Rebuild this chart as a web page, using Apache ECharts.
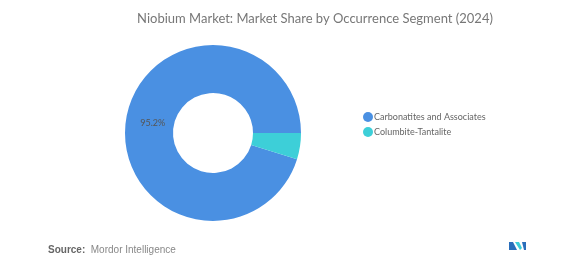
<!DOCTYPE html>
<html>
<head>
<meta charset="utf-8">
<script src="https://cdn.jsdelivr.net/npm/echarts@6/dist/echarts.min.js"></script>
<style>
  html, body { margin: 0; padding: 0; background: #fff; }
  #chart { width: 580px; height: 262px; }
</style>
</head>
<body>
<div id="chart"></div>
<script>
// segment names and shares (%)
const segments = ['Carbonatites and Associates', 'Columbite-Tantalite']
const shares = [95.2, 4.8]
const colors = ['#4a90e2', '#3dcfd8']

const chart = echarts.init(document.getElementById('chart'))

let pieData = []
segments.forEach((name, i) => {
  pieData.push({
    name: name,
    value: shares[i],
    itemStyle: { color: colors[i] },
    // only the big slice carries a label
    label: { show: i === 0 }
  })
})

const option = {
  backgroundColor: '#fff',
  textStyle: { fontFamily: 'Lato, "Open Sans", sans-serif' },
  title: {
    text: 'Niobium Market: Market Share by Occurrence Segment (2024)',
    left: 310,
    top: 7,
    textAlign: 'center',
    textStyle: { fontSize: 13, fontWeight: 'normal', color: '#777' }
  },
  legend: {
    orient: 'vertical',
    left: 358,
    top: 107,
    itemWidth: 10,
    itemHeight: 10,
    itemGap: 5,
    icon: 'circle',
    data: segments,
    textStyle: { fontSize: 9, color: '#666', padding: [0, 0, 0, -4] }
  },
  series: [
    {
      type: 'pie',
      center: [213, 133],
      radius: [40, 88],
      startAngle: 0,
      clockwise: false,
      avoidLabelOverlap: false,
      label: {
        position: 'inside',
        formatter: '{d}%',
        fontSize: 9,
        color: '#555',
        offset: [6, 0]
      },
      labelLine: { show: false },
      emphasis: { disabled: true },
      data: pieData
    }
  ],
  graphic: [
    {
      type: 'text',
      left: 48,
      top: 245,
      style: {
        text: '{b|Source:}  Mordor Intelligence',
        fill: '#888',
        fontSize: 10,
        rich: { b: { fontSize: 10, fontWeight: 'bold', fill: '#666' } }
      }
    },
    // small logo
    {
      type: 'polygon',
      shape: { points: [[509, 250], [509, 242], [513, 242], [517, 250]] },
      style: { fill: '#2a6ebb' }
    },
    {
      type: 'polygon',
      shape: { points: [[515, 242], [519, 242], [522, 248], [520, 250]] },
      style: { fill: '#3dcfd8' }
    },
    {
      type: 'polygon',
      shape: { points: [[522, 242], [526, 242], [526, 250], [524, 250]] },
      style: { fill: '#2a6ebb' }
    }
  ]
}

chart.setOption(option)
</script>
</body>
</html>
